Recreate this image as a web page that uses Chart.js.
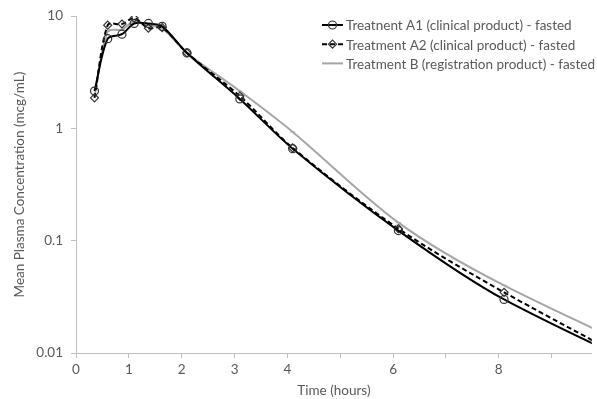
<!DOCTYPE html>
<html>
<head>
<meta charset="utf-8">
<script src="https://cdn.jsdelivr.net/npm/chart.js@4.4.1/dist/chart.umd.min.js"></script>
<style>
  html, body { margin: 0; padding: 0; background: #fff; }
  #wrap { width: 597px; height: 399px; position: relative; }
</style>
</head>
<body>
<div id="wrap"><canvas id="pk"></canvas></div>
<script>
// DATA
const timesH = [0.35, 0.6, 0.87, 1.1, 1.37, 1.63, 2.1, 3.1, 4.1, 6.1, 8.1, 12.1];
const treatA1 = [2.15, 6.3, 6.9, 8.6, 8.6, 8.1, 4.7, 1.83, 0.66, 0.123, 0.030, 0.0037];
const treatA2 = [1.87, 8.3, 8.5, 9.6, 7.8, 7.9, 4.7, 1.94, 0.67, 0.128, 0.0347, 0.0034];
const treatB  = [1.95, 7.3, 7.6, 9.0, 8.3, 7.8, 4.7, 2.15, 0.93, 0.145, 0.040, 0.0052];
const seriesNames = [
    'Treatnent A1 (clinical product) - fasted',
    'Treatment A2 (clinical product) - fasted',
    'Treatment B (registration product) - fasted'
];
const yTicks = [0.01, 0.1, 1, 10];
const xLabelled = [0, 1, 2, 3, 4, 6, 8];

const FONT = 'Lato';
const TXT = '#595959';
const AXIS = '#bfbfbf';

const pts = vals => vals.map((v, i) => ({ x: timesH[i], y: v }));

// custom legend: line sample + marker, like the Excel one
const lineLegend = {
    id: 'lineLegend',
    afterDraw(chart) {
        const ctx = chart.ctx;
        ctx.save();
        ctx.font = `13.5px ${FONT}`;
        ctx.textBaseline = 'middle';
        chart.data.datasets.forEach((ds, i) => {
            const y = 25 + i * 19.2;
            ctx.strokeStyle = ds.borderColor;
            ctx.lineWidth = ds.borderWidth;
            ctx.setLineDash(ds.borderDash || []);
            ctx.beginPath(); ctx.moveTo(322, y); ctx.lineTo(343, y); ctx.stroke();
            ctx.setLineDash([]);
            ctx.lineWidth = 1.2;
            ctx.strokeStyle = ds.pointBorderColor;
            ctx.fillStyle = ds.pointBackgroundColor;
            Chart.helpers.drawPoint(ctx, { pointStyle: ds.pointStyle, radius: ds.pointRadius, rotation: 0, borderWidth: 1.2 }, 332.5, y);
            ctx.fillStyle = TXT;
            ctx.fillText(seriesNames[i], 346, y + 1);
        });
        ctx.restore();
    }
};

new Chart(document.getElementById('pk'), {
    type: 'line',
    data: {
        datasets: [
            { label: seriesNames[0], data: pts(treatA1), borderColor: '#000', borderWidth: 2,
              pointStyle: 'circle', pointRadius: 4, pointBorderColor: '#333', pointBackgroundColor: 'rgba(255,255,255,0)',
              pointBorderWidth: 1.2, tension: 0.3, order: 1 },
            { label: seriesNames[1], data: pts(treatA2), borderColor: '#000', borderWidth: 2, borderDash: [5, 3],
              pointStyle: 'rectRot', pointRadius: 4, pointBorderColor: '#333', pointBackgroundColor: 'rgba(255,255,255,0)',
              pointBorderWidth: 1.2, tension: 0.3, order: 2 },
            { label: seriesNames[2], data: pts(treatB), borderColor: '#a6a6a6', borderWidth: 2,
              pointStyle: 'line', pointRadius: 2.5, pointBorderColor: '#a6a6a6', pointBackgroundColor: '#a6a6a6',
              pointBorderWidth: 1, tension: 0.3, order: 3 }
        ]
    },
    options: {
        responsive: true,
        maintainAspectRatio: false,
        animation: false,
        layout: { padding: { top: 15, right: 0, left: 0, bottom: 0 } },
        plugins: { legend: { display: false }, tooltip: { enabled: false } },
        scales: {
            x: {
                type: 'linear', min: 0, max: 9.76,
                afterFit: s => { s.height = 46; },
                afterBuildTicks: s => { s.ticks = [0,1,2,3,4,5,6,7,8,9].map(v => ({ value: v })); },
                ticks: {
                    color: TXT, font: { family: FONT, size: 13.5 }, padding: 4,
                    maxRotation: 0, autoSkip: false,
                    callback: v => xLabelled.includes(v) ? String(v) : ''
                },
                grid: { drawOnChartArea: false, color: AXIS, tickLength: 5 },
                border: { color: AXIS },
                title: { display: true, text: 'Time (hours)', color: TXT, font: { family: FONT, size: 13.5 }, padding: { top: 0, bottom: 0 } }
            },
            y: {
                type: 'logarithmic', min: 0.01, max: 10,
                afterFit: s => { s.width = 76; },
                afterBuildTicks: s => { s.ticks = yTicks.map(v => ({ value: v })); },
                ticks: { color: TXT, font: { family: FONT, size: 13.5 }, padding: 8, callback: v => String(v) },
                grid: { drawOnChartArea: false, color: AXIS, tickLength: 5 },
                border: { color: AXIS },
                title: { display: true, text: 'Mean Plasma Concentration (mcg/mL)', color: TXT, font: { family: FONT, size: 13.5 }, padding: { top: 12, bottom: 0 } }
            }
        }
    },
    plugins: [lineLegend]
});
</script>
</body>
</html>
